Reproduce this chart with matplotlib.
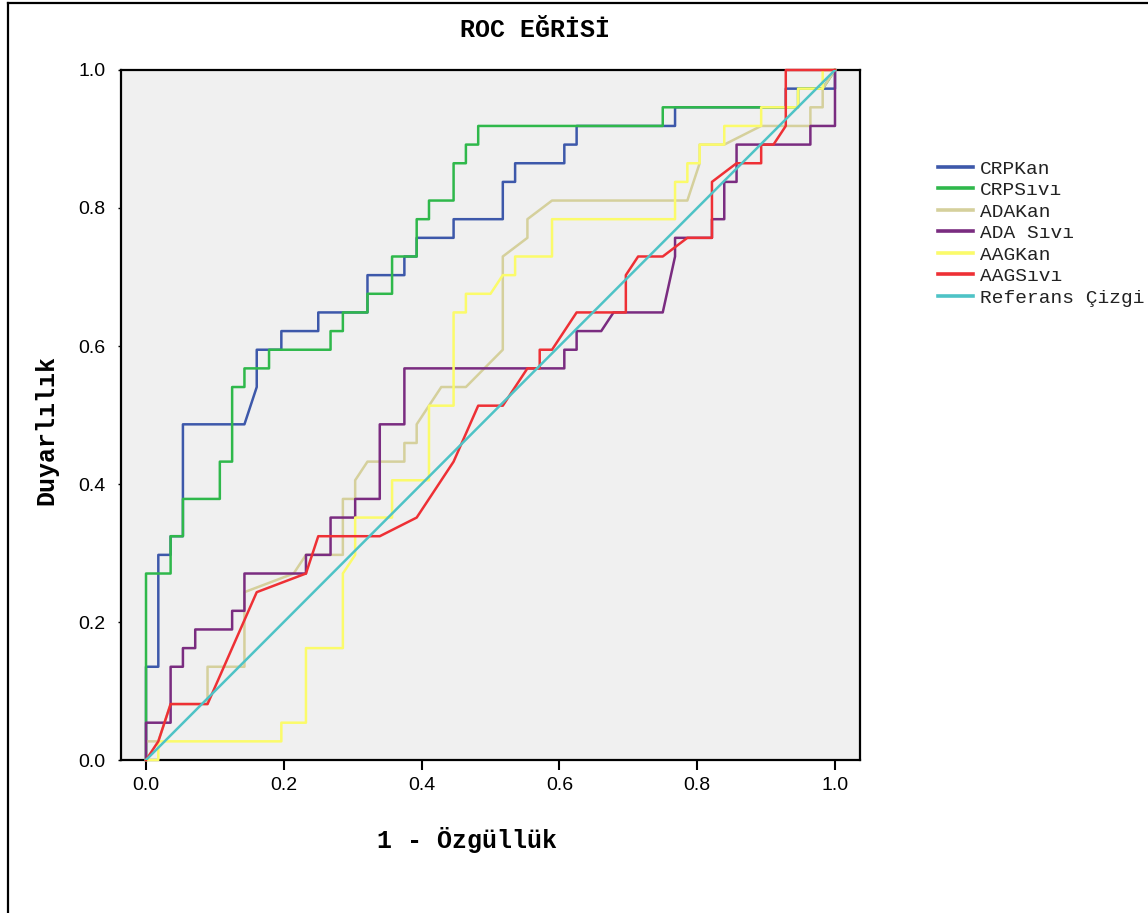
import matplotlib
matplotlib.use("Agg")
import matplotlib.pyplot as plt
from matplotlib.lines import Line2D

# ROC curves as (false positive count, true positive count)
# 56 negatives and 37 positives in the sample
N_NEG = 56
N_POS = 37

labels = ["CRPKan", "CRPSıvı", "ADAKan", "ADA Sıvı", "AAGKan", "AAGSıvı"]
colors = ["#3d58aa", "#2fb84b", "#d5d09c", "#7a2c80", "#fbfb6a", "#ee3035"]

crp_kan_fp = [0, 0, 1, 1, 2, 2, 3, 3, 8, 9, 9, 11, 11, 14, 14, 18, 18, 21, 21, 22, 22,
              25, 25, 29, 29, 30, 30, 34, 34, 35, 35, 43, 43, 52, 52, 56, 56]
crp_kan_tp = [0, 5, 5, 11, 11, 12, 12, 18, 18, 20, 22, 22, 23, 23, 24, 24, 26, 26, 27, 27, 28,
              28, 29, 29, 31, 31, 32, 32, 33, 33, 34, 34, 35, 35, 36, 36, 37]

crp_sivi_fp = [0, 0, 2, 2, 3, 3, 6, 6, 7, 7, 8, 8, 10, 10, 15, 15, 16, 16, 18, 18, 20,
               20, 22, 22, 23, 23, 25, 25, 26, 26, 27, 27, 42, 42, 53, 53, 55, 56]
crp_sivi_tp = [0, 10, 10, 12, 12, 14, 14, 16, 16, 20, 20, 21, 21, 22, 22, 23, 23, 24, 24, 25, 25,
               27, 27, 29, 29, 30, 30, 32, 32, 33, 33, 34, 34, 35, 35, 36, 36, 37]

ada_kan_fp = [0, 0, 1, 2, 5, 5, 8, 8, 12, 13, 16, 16, 17, 17, 18, 21, 21, 22, 22, 24, 26,
              29, 29, 31, 31, 33, 44, 45, 45, 47, 50, 54, 54, 55, 55, 56]
ada_kan_tp = [0, 1, 1, 3, 3, 5, 5, 9, 10, 11, 11, 14, 14, 15, 16, 16, 17, 17, 18, 20, 20,
              22, 27, 28, 29, 30, 30, 32, 33, 33, 34, 34, 35, 35, 36, 37]

ada_sivi_fp = [0, 0, 2, 2, 3, 3, 4, 4, 7, 7, 8, 8, 13, 13, 15, 15, 17, 17, 19, 19, 21,
               21, 34, 34, 35, 35, 37, 38, 42, 43, 43, 46, 46, 47, 47, 48, 48, 54, 54, 56, 56]
ada_sivi_tp = [0, 2, 2, 5, 5, 6, 6, 7, 7, 8, 8, 10, 10, 11, 11, 13, 13, 14, 14, 18, 18,
               21, 21, 22, 22, 23, 23, 24, 24, 27, 28, 28, 29, 29, 31, 31, 33, 33, 34, 34, 37]

aag_kan_fp = [0, 1, 1, 11, 11, 13, 13, 16, 16, 17, 17, 20, 20, 23, 23, 25, 25, 26, 26, 28, 29,
              30, 30, 33, 33, 43, 43, 44, 44, 45, 45, 47, 47, 50, 50, 53, 53, 55, 55, 56]
aag_kan_tp = [0, 0, 1, 1, 2, 2, 6, 6, 10, 11, 13, 13, 15, 15, 19, 19, 24, 24, 25, 25, 26,
              26, 27, 27, 29, 29, 31, 31, 32, 32, 33, 33, 34, 34, 35, 35, 36, 36, 37, 37]

aag_sivi_fp = [0, 1, 2, 5, 9, 13, 14, 19, 22, 25, 27, 29, 31, 32, 32, 33, 35, 39, 39, 40, 42,
               44, 46, 46, 48, 50, 50, 51, 52, 52, 56]
aag_sivi_tp = [0, 1, 3, 3, 9, 10, 12, 12, 13, 16, 19, 19, 21, 21, 22, 22, 24, 24, 26, 27, 27,
               28, 28, 31, 32, 32, 33, 33, 34, 37, 37]

ref_x = [0, 1]
ref_y = [0, 1]

curves = [
    (crp_kan_fp, crp_kan_tp),
    (crp_sivi_fp, crp_sivi_tp),
    (ada_kan_fp, ada_kan_tp),
    (ada_sivi_fp, ada_sivi_tp),
    (aag_kan_fp, aag_kan_tp),
    (aag_sivi_fp, aag_sivi_tp),
]

mono = "Liberation Mono"
sans = "Liberation Sans"

fig = plt.figure(figsize=(11.48, 9.13), dpi=100)
ax = fig.add_axes([121 / 1148, 1 - 760 / 913, 739 / 1148, 690 / 913])
ax.set_facecolor("#f0f0f0")

handles = []
for (fp, tp), lab, col in zip(curves, labels, colors):
    x = [v / N_NEG for v in fp]
    y = [v / N_POS for v in tp]
    h, = ax.plot(x, y, color=col, lw=1.8, label=lab, zorder=3, clip_on=False)
    handles.append(h)
h, = ax.plot(ref_x, ref_y, color="#4ec3c6", lw=1.8, label="Referans Çizgi", zorder=3)
handles.append(h)

ax.set_xlim(-0.0363, 1.0363)
ax.set_ylim(0, 1)
ticks = [0.0, 0.2, 0.4, 0.6, 0.8, 1.0]
ax.set_xticks(ticks)
ax.set_yticks(ticks)
ax.set_xticklabels([f"{t:.1f}" for t in ticks], fontfamily=sans, fontsize=14)
ax.set_yticklabels([f"{t:.1f}" for t in ticks], fontfamily=sans, fontsize=14)
ax.tick_params(axis="x", direction="out", length=7, width=1.5, pad=5)
ax.tick_params(axis="y", direction="out", length=2, width=1, pad=9)
for s in ax.spines.values():
    s.set_linewidth(1.6)

fig.text(535 / 1148, 1 - 30 / 913, "ROC EĞRİSİ", family=mono, weight="bold",
         fontsize=18, ha="center", va="center")
fig.text(467 / 1148, 1 - 840 / 913, "1 - Özgüllük", family=mono, weight="bold",
         fontsize=18, ha="center", va="center")
fig.text(46 / 1148, 1 - 430 / 913, "Duyarlılık", family=mono, weight="bold",
         fontsize=18, ha="center", va="center", rotation=90)

leg = fig.legend(handles=handles, loc="upper left", bbox_to_anchor=(938 / 1148, 1 - 160 / 913),
                 frameon=False, prop={"family": mono, "size": 14}, handlelength=1.8,
                 handletextpad=0.35, labelspacing=0.2, borderpad=0, borderaxespad=0)
for line in leg.get_lines():
    line.set_linewidth(2.6)
for t in leg.get_texts():
    t.set_color("#222222")

# outer frame of the chart window (left and top edges visible)
fig.add_artist(Line2D([8 / 1148, 8 / 1148], [0, 1 - 3 / 913], color="black", lw=1.6))
fig.add_artist(Line2D([8 / 1148, 1], [1 - 3 / 913, 1 - 3 / 913], color="black", lw=1.6))

fig.savefig("out.png", dpi=100)
